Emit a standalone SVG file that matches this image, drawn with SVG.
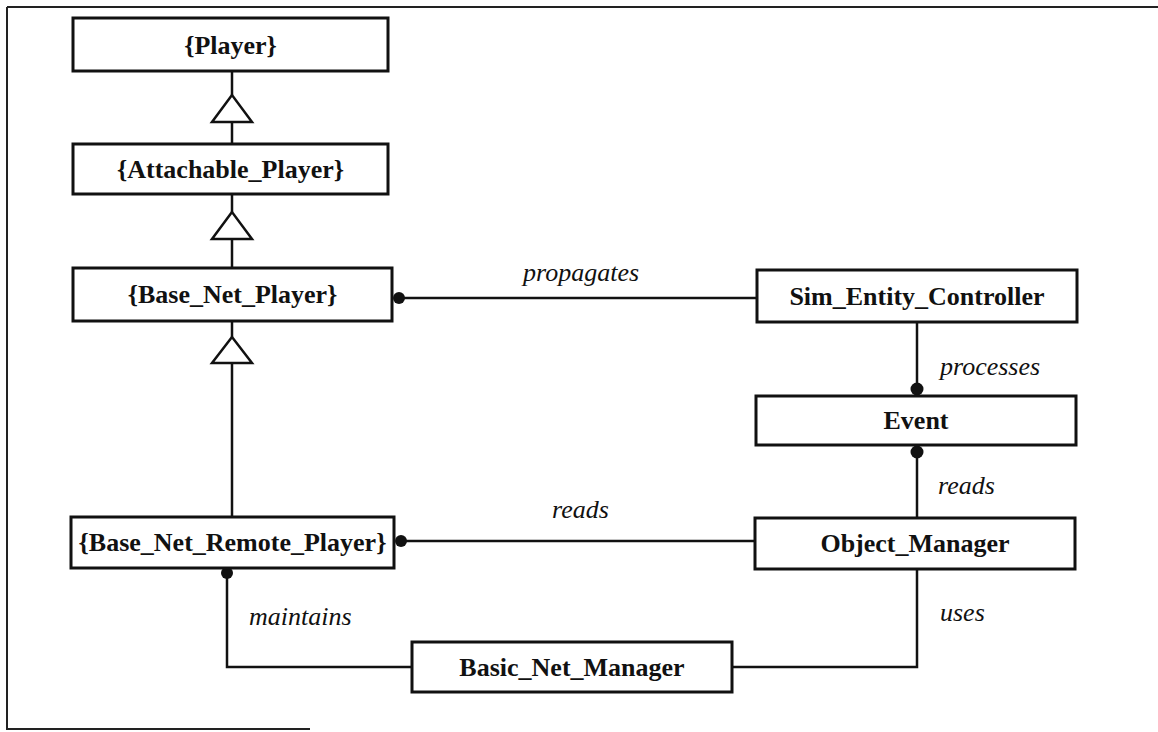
<svg xmlns="http://www.w3.org/2000/svg" width="1158" height="732" viewBox="0 0 1158 732">
<style>
.box{fill:#fff;stroke:#111;stroke-width:3}
.lbl{font-family:"Liberation Serif","Times New Roman",serif;font-weight:bold;font-size:26px;fill:#111;text-anchor:middle}
.rel{font-family:"Liberation Serif","Times New Roman",serif;font-style:italic;font-size:26px;fill:#111}
.ln{fill:none;stroke:#111;stroke-width:2.5}
.tri{fill:#fff;stroke:#111;stroke-width:2.5;stroke-linejoin:miter}
.dot{fill:#111}
.frame{fill:none;stroke:#222;stroke-width:2}
</style>
<rect width="1158" height="732" fill="#fff"/>
<g id="frame">
<path class="frame" d="M7,7 H1158"/>
<path class="frame" d="M7,7 V729 H310" stroke-width="1.5"/>
</g>
<g id="connectors">
<path class="ln" d="M232,71 V95 M232,122 V144 M232,194 V212 M232,239 V268 M232,321 V337 M232,363 V517"/>
<polygon class="tri" points="232,95 212,122 252,122"/>
<polygon class="tri" points="232,212 212,239 252,239"/>
<polygon class="tri" points="232,337 212,363 252,363"/>
<path class="ln" d="M398,298 H757"/>
<circle class="dot" cx="399" cy="298" r="6"/>
<path class="ln" d="M401,541 H755"/>
<circle class="dot" cx="401" cy="541" r="6"/>
<path class="ln" d="M917,322 V396"/>
<circle class="dot" cx="917" cy="389" r="6.5"/>
<path class="ln" d="M917,445 V518"/>
<circle class="dot" cx="917" cy="452" r="6.5"/>
<path class="ln" d="M917,569 V667 H732"/>
<path class="ln" d="M227,568 V667 H412"/>
<circle class="dot" cx="227" cy="573" r="6"/>
<text class="rel" x="523" y="281">propagates</text>
<text class="rel" x="940" y="375">processes</text>
<text class="rel" x="938" y="494">reads</text>
<text class="rel" x="552" y="518">reads</text>
<text class="rel" x="249" y="625">maintains</text>
<text class="rel" x="940" y="621">uses</text>
</g>
<g id="player"><rect class="box" x="73" y="18" width="315" height="53"/><text class="lbl" x="230.5" y="54">{Player}</text></g>
<g id="attachable_player"><rect class="box" x="73" y="144" width="315" height="50"/><text class="lbl" x="230.5" y="178">{Attachable_Player}</text></g>
<g id="base_net_player"><rect class="box" x="73" y="268" width="319" height="53"/><text class="lbl" x="232.5" y="303">{Base_Net_Player}</text></g>
<g id="base_net_remote_player"><rect class="box" x="71" y="517" width="323" height="51"/><text class="lbl" x="232.5" y="551">{Base_Net_Remote_Player}</text></g>
<g id="sim_entity_controller"><rect class="box" x="757" y="270" width="320" height="52"/><text class="lbl" x="917" y="305">Sim_Entity_Controller</text></g>
<g id="event"><rect class="box" x="756" y="396" width="320" height="49"/><text class="lbl" x="916" y="429">Event</text></g>
<g id="object_manager"><rect class="box" x="755" y="518" width="320" height="51"/><text class="lbl" x="915" y="552">Object_Manager</text></g>
<g id="basic_net_manager"><rect class="box" x="412" y="642" width="320" height="50"/><text class="lbl" x="572" y="676">Basic_Net_Manager</text></g>
</svg>
